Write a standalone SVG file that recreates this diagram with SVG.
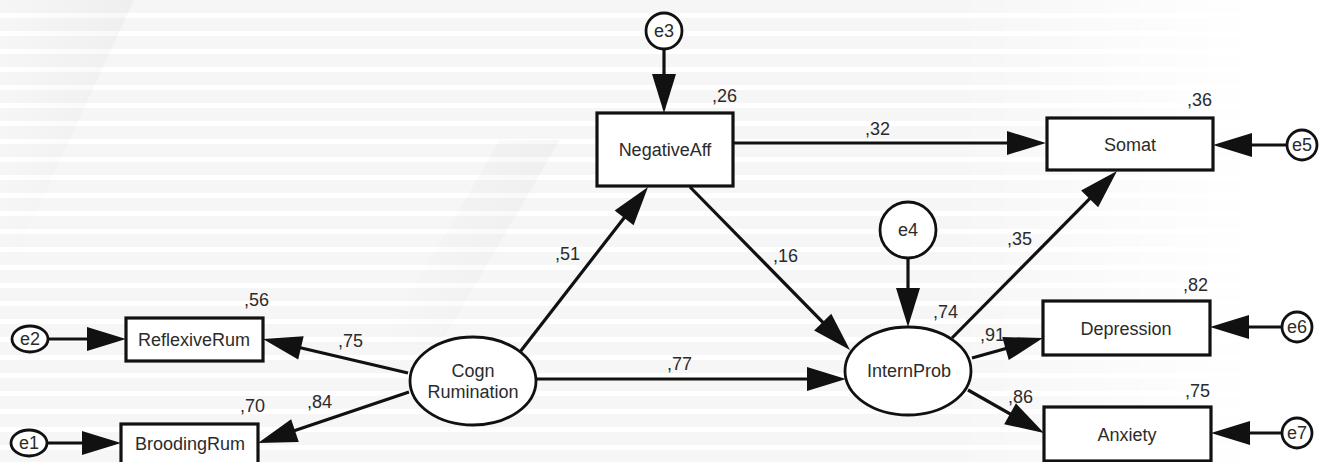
<svg xmlns="http://www.w3.org/2000/svg" width="1325" height="462" viewBox="0 0 1325 462">
<defs>
<style>
.bx{fill:#ffffff;stroke:#111;stroke-width:3.2}
.ov{fill:#ffffff;stroke:#111;stroke-width:2.8}
.er{fill:#ffffff;stroke:#111;stroke-width:2.8}
.ln{fill:none;stroke:#111;stroke-width:3.2;marker-end:url(#ah)}
text{font-family:"Liberation Sans",Arial,sans-serif;font-size:18px;fill:#2b2b2b}
.c{text-anchor:middle}
</style>
<marker id="ah" markerUnits="userSpaceOnUse" markerWidth="39" markerHeight="24" refX="29" refY="12" orient="auto" overflow="visible">
<path d="M0,0 L39,12 L0,24 z" fill="#111"/>
</marker>
<pattern id="stripes" patternUnits="userSpaceOnUse" width="20" height="18">
<rect x="0" y="0" width="20" height="13" fill="#f6f6f6"/>
</pattern>
<linearGradient id="fadeG" x1="0" y1="0" x2="1" y2="0">
<stop offset="0" stop-color="#fff"/>
<stop offset="0.72" stop-color="#fff"/>
<stop offset="0.95" stop-color="#000"/>
</linearGradient>
<mask id="fade" maskUnits="userSpaceOnUse" x="0" y="0" width="1325" height="462">
<rect x="0" y="0" width="1325" height="462" fill="url(#fadeG)"/>
</mask>
<linearGradient id="wedge" x1="0" y1="0" x2="1" y2="0">
<stop offset="0" stop-color="#000" stop-opacity="0"/>
<stop offset="1" stop-color="#000" stop-opacity="0.03"/>
</linearGradient>
</defs>
<rect x="0" y="0" width="1325" height="462" fill="#ffffff"/>
<g id="background" mask="url(#fade)">
<rect x="0" y="0" width="1325" height="462" fill="url(#stripes)"/>
<polygon points="0,0 134,0 0,290" fill="url(#wedge)"/>
<polygon points="500,140 560,140 440,345 380,345" fill="url(#wedge)"/>
</g>
<g id="connectors">
<line class="ln" x1="49" y1="339" x2="116" y2="339"/>
<line class="ln" x1="47" y1="443" x2="111" y2="443"/>
<line class="ln" x1="408" y1="373" x2="272.7" y2="341.3"/>
<line class="ln" x1="409" y1="392" x2="267.5" y2="439.8"/>
<line class="ln" x1="520" y1="352" x2="641.9" y2="194.9"/>
<line class="ln" x1="536" y1="379" x2="836" y2="379"/>
<line class="ln" x1="690" y1="187" x2="843" y2="342.9"/>
<line class="ln" x1="664" y1="49" x2="664" y2="103"/>
<line class="ln" x1="733" y1="143" x2="1036" y2="143"/>
<line class="ln" x1="1287" y1="145" x2="1223" y2="145"/>
<line class="ln" x1="908" y1="258" x2="908" y2="317"/>
<line class="ln" x1="952" y1="338" x2="1110" y2="178.2"/>
<line class="ln" x1="972" y1="358" x2="1033.4" y2="340.7"/>
<line class="ln" x1="968" y1="390" x2="1035.3" y2="428.1"/>
<line class="ln" x1="1282" y1="327" x2="1220" y2="327"/>
<line class="ln" x1="1282" y1="433" x2="1221" y2="433"/>
</g>
<g id="e2"><ellipse class="er" cx="30" cy="339" rx="18" ry="13"/><text class="c" x="30" y="345">e2</text></g>
<g id="e1"><ellipse class="er" cx="29" cy="443" rx="18" ry="13"/><text class="c" x="29" y="449">e1</text></g>
<g id="ReflexiveRum"><rect class="bx" x="126" y="318" width="137" height="43"/><text class="c" x="194" y="346">ReflexiveRum</text><text x="244" y="306">,56</text></g>
<g id="BroodingRum"><rect class="bx" x="121" y="424" width="137" height="50"/><text class="c" x="190" y="450">BroodingRum</text><text x="240" y="412">,70</text></g>
<g id="CognRumination"><ellipse class="ov" cx="473" cy="381" rx="63" ry="44"/><text class="c" x="473" y="377">Cogn</text><text class="c" x="473" y="398">Rumination</text></g>
<g id="e3"><circle class="er" cx="664" cy="31" r="18"/><text class="c" x="664" y="37">e3</text></g>
<g id="NegativeAff"><rect class="bx" x="597" y="113" width="136" height="73"/><text class="c" x="665" y="156">NegativeAff</text><text x="712" y="102">,26</text></g>
<g id="e4"><circle class="er" cx="908" cy="230" r="28"/><text class="c" x="908" y="236">e4</text></g>
<g id="InternProb"><ellipse class="ov" cx="908" cy="371" rx="63" ry="44"/><text class="c" x="909" y="377">InternProb</text><text x="933" y="318">,74</text></g>
<g id="Somat"><rect class="bx" x="1047" y="118" width="166" height="52"/><text class="c" x="1130" y="151">Somat</text><text x="1187" y="106">,36</text></g>
<g id="e5"><circle class="er" cx="1302" cy="145" r="15"/><text class="c" x="1302" y="151">e5</text></g>
<g id="Depression"><rect class="bx" x="1043" y="301" width="167" height="54"/><text class="c" x="1126" y="335">Depression</text><text x="1183" y="291">,82</text></g>
<g id="e6"><circle class="er" cx="1297" cy="327" r="15"/><text class="c" x="1297" y="333">e6</text></g>
<g id="Anxiety"><rect class="bx" x="1044" y="407" width="167" height="54"/><text class="c" x="1127" y="441">Anxiety</text><text x="1185" y="397">,75</text></g>
<g id="e7"><circle class="er" cx="1297" cy="433" r="15"/><text class="c" x="1297" y="439">e7</text></g>
<g id="path-labels">
<text x="338" y="347">,75</text>
<text x="307" y="408">,84</text>
<text x="555" y="260">,51</text>
<text x="667" y="370">,77</text>
<text x="865" y="135">,32</text>
<text x="773" y="262">,16</text>
<text x="1007" y="245">,35</text>
<text x="980" y="341">,91</text>
<text x="1008" y="403">,86</text>
</g>
</svg>
